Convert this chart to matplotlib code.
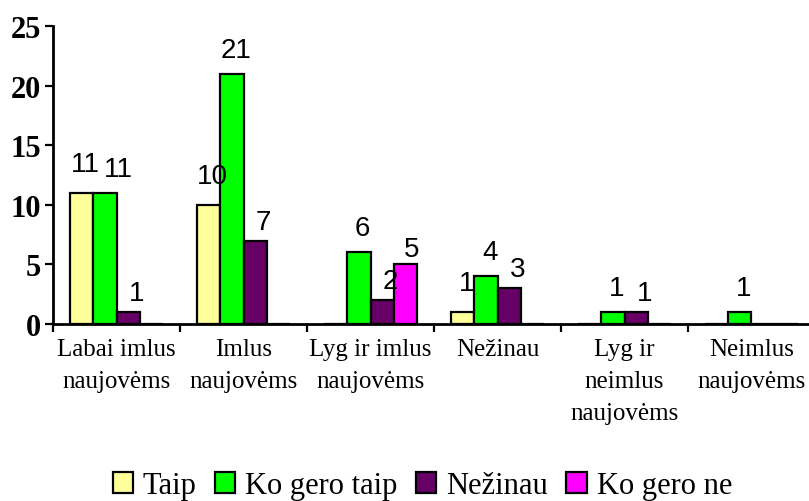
import matplotlib.pyplot as plt
import numpy as np

# Kategorijos ir atsakymų reikšmės
categories = ['Labai imlus\nnaujovėms', 'Imlus\nnaujovėms', 'Lyg ir imlus\nnaujovėms',
              'Nežinau', 'Lyg ir\nneimlus\nnaujovėms', 'Neimlus\nnaujovėms']
series_names = ['Taip', 'Ko gero taip', 'Nežinau', 'Ko gero ne']
taip = [11, 10, 0, 1, 0, 0]
ko_gero_taip = [11, 21, 6, 4, 1, 1]
nezinau = [1, 7, 2, 3, 1, 0]
ko_gero_ne = [0, 0, 5, 0, 0, 0]
colors = ['#FFFF99', '#00FF00', '#660066', '#FF00FF']

series = [taip, ko_gero_taip, nezinau, ko_gero_ne]
# reikšmių žymų poslinkis (px) kiekvienai serijai
label_shift = [(4, 29), (4, 24), (8, 19), (6, 15)]

fig = plt.figure(figsize=(8.09, 5.02), dpi=100)
ax = fig.add_axes([53 / 809, 1 - 325 / 502, (815 - 53) / 809, (325 - 27) / 502])

x = np.arange(len(categories))
w = 0.185
labels = {}
for i, (vals, name, col) in enumerate(zip(series, series_names, colors)):
    pos = x + (i - 1.5) * w
    ax.bar(pos, vals, width=w, color=col, edgecolor='black',
           linewidth=1.6, label=name, zorder=3)
    for j, (p, v) in enumerate(zip(pos, vals)):
        if v > 0:
            t = ax.annotate(str(v), (p, v), xytext=label_shift[i], textcoords='offset pixels',
                            ha='center', va='center', fontsize=20,
                            family='Liberation Sans', zorder=4)
            labels.setdefault(j, []).append(t)

ax.set_xlim(-0.5, len(categories) - 0.5)
ax.set_ylim(0, 25)
ax.set_yticks([0, 5, 10, 15, 20, 25])
ax.set_yticklabels(['0', '5', '10', '15', '20', '25'], fontsize=22,
                   family='Liberation Serif', fontweight='bold')
ax.tick_params(axis='y', length=6, width=1.6, pad=2.5)

# žymos tarp kategorijų, pavadinimai centre
ax.set_xticks(np.arange(-0.5, len(categories), 1.0))
ax.set_xticklabels([])
ax.set_xticks(x, minor=True)
ax.set_xticklabels(categories, minor=True, fontsize=18, family='Liberation Serif',
                   linespacing=1.6, va='top')
ax.tick_params(axis='x', which='major', length=6, width=1.6)
ax.tick_params(axis='x', which='minor', length=0, pad=10)

for s in ['top', 'right']:
    ax.spines[s].set_visible(False)
ax.spines['left'].set_linewidth(2)
ax.spines['bottom'].set_linewidth(2)

# persidengiančias žymas pastumti į dešinę
fig.canvas.draw()
r = fig.canvas.get_renderer()
for grp in labels.values():
    for a, b in zip(grp[:-1], grp[1:]):
        ea, eb = a.get_window_extent(r), b.get_window_extent(r)
        if ea.overlaps(eb):
            dx = ea.x1 - eb.x0 + 4
            ox, oy = b.xyann
            b.xyann = (ox + dx, oy)

leg = fig.legend(loc='center', bbox_to_anchor=(0.522, 0.03), ncol=4, frameon=False,
                 prop={'family': 'Liberation Serif', 'size': 22},
                 handlelength=0.66, handleheight=0.66, handletextpad=0.33,
                 columnspacing=0.6)
for h in leg.legend_handles:
    h.set_linewidth(1.6)

fig.savefig('out.png', dpi=100)
